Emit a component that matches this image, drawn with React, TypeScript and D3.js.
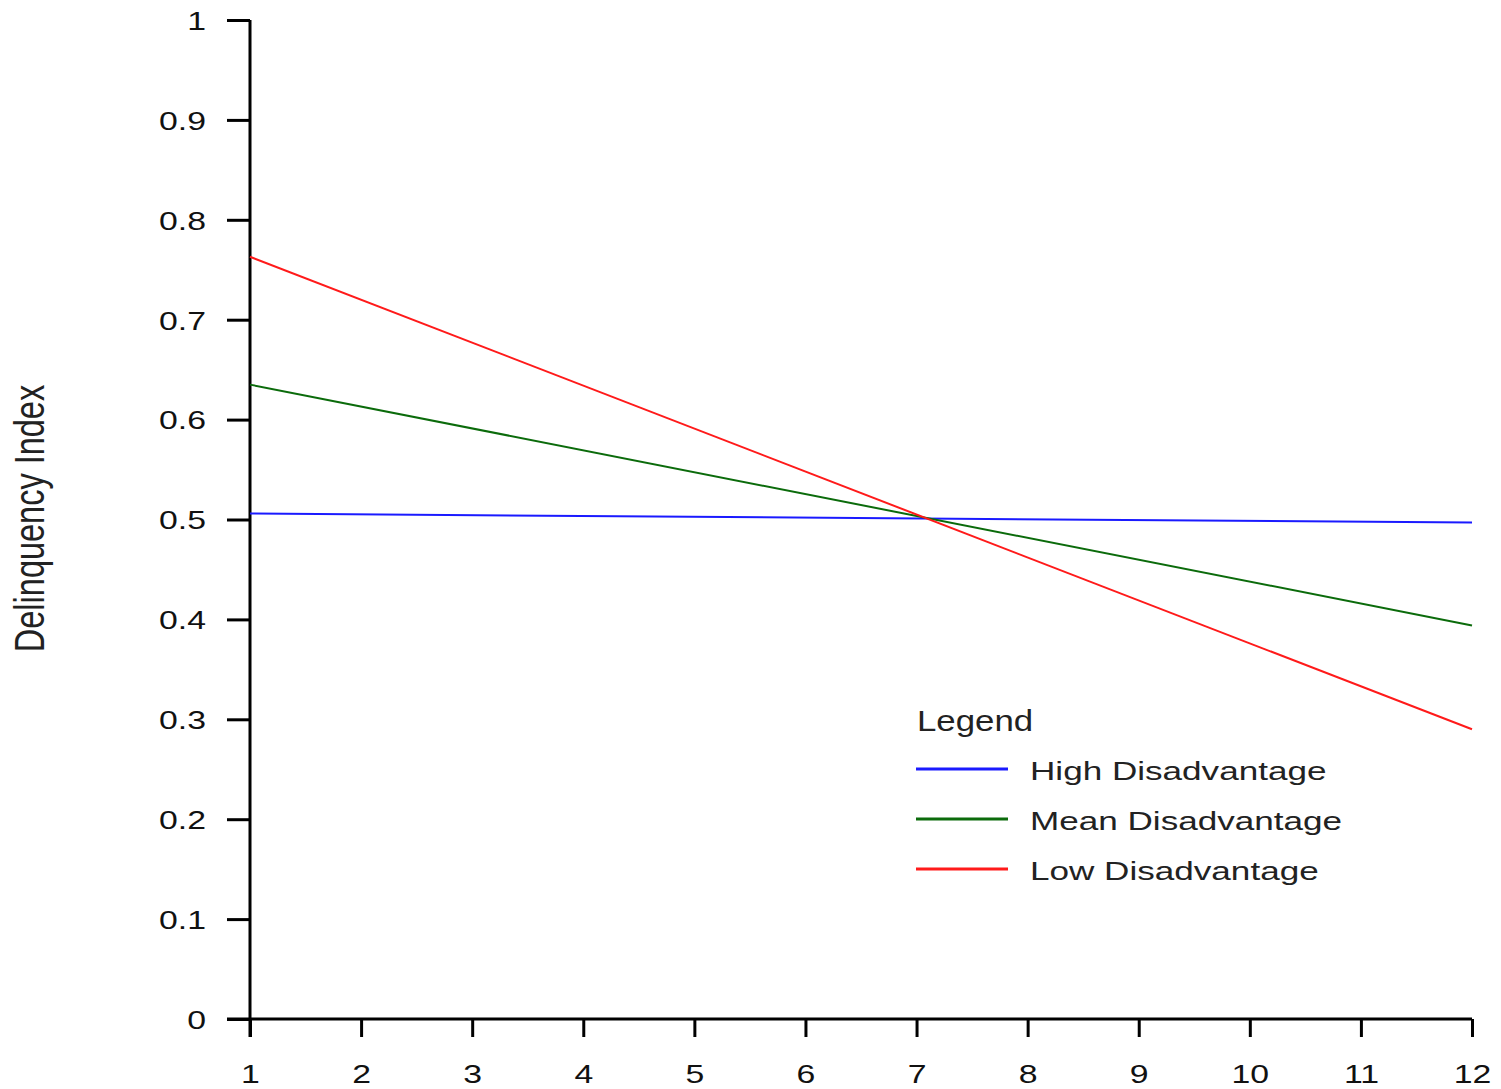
import { useEffect, useRef } from "react";
import * as d3 from "d3";

const xValues = [1, 12];
const highValues = [0.506, 0.497];
const meanValues = [0.635, 0.394];
const lowValues = [0.763, 0.29];
const seriesNames = ["High Disadvantage", "Mean Disadvantage", "Low Disadvantage"];
const seriesColors = ["#1a1aff", "#0b6b0b", "#ff1a1a"];
const xTicks = [1, 2, 3, 4, 5, 6, 7, 8, 9, 10, 11, 12];
const yTicks = [0, 0.1, 0.2, 0.3, 0.4, 0.5, 0.6, 0.7, 0.8, 0.9, 1];

const App = () => {
  const svgRef = useRef<SVGSVGElement | null>(null);

  useEffect(() => {
    const WIDTH = 1501;
    const HEIGHT = 1089;
    const MARGINS = { top: 20, right: 29, bottom: 70, left: 250 };
    const FONT = "'Liberation Sans', Arial, sans-serif";
    // the original text looks stretched sideways
    const STRETCH = 1.3;

    const svg = d3.select(svgRef.current).attr("width", WIDTH).attr("height", HEIGHT);
    svg.selectAll("*").remove();

    const x = d3.scaleLinear().domain([1, 12]).range([MARGINS.left, WIDTH - MARGINS.right]);
    const y = d3.scaleLinear().domain([0, 1]).range([HEIGHT - MARGINS.bottom, MARGINS.top]);

    // y axis
    const yAxis = svg
      .append("g")
      .attr("transform", `translate(${MARGINS.left},0)`)
      .call(d3.axisLeft(y).tickValues(yTicks).tickSize(23).tickSizeOuter(0).tickPadding(21).tickFormat((d) => d3.format("")(+d)));
    yAxis.select(".domain").attr("stroke", "#000").attr("stroke-width", 3)
      .attr("d", `M0,${y(1)}V${y(0) + 18}`);
    yAxis.selectAll(".tick line").attr("stroke", "#000").attr("stroke-width", 3);
    yAxis.selectAll(".tick text")
      .attr("font-family", FONT)
      .attr("font-size", 26)
      .attr("fill", "#111")
      .attr("dy", "0.36em")
      .attr("x", -44 / STRETCH)
      .attr("transform", `scale(${STRETCH},1)`);

    // x axis
    const xAxis = svg
      .append("g")
      .attr("transform", `translate(0,${y(0)})`)
      .call(d3.axisBottom(x).tickValues(xTicks).tickSize(18).tickSizeOuter(0).tickPadding(28).tickFormat(d3.format("d")));
    xAxis.select(".domain").attr("stroke", "#000").attr("stroke-width", 3)
      .attr("d", `M${MARGINS.left - 23},0H${x(12)}`);
    xAxis.selectAll(".tick line").attr("stroke", "#000").attr("stroke-width", 3);
    xAxis.selectAll(".tick text")
      .attr("font-family", FONT)
      .attr("font-size", 26)
      .attr("fill", "#111")
      .attr("transform", `scale(${STRETCH},1)`);

    // y title
    svg
      .append("text")
      .attr("transform", `translate(44,${(y(0) + y(1)) / 2 - 1}) rotate(-90) scale(1,1.3)`)
      .attr("text-anchor", "middle")
      .attr("font-family", FONT)
      .attr("font-size", 32.5)
      .attr("fill", "#222")
      .text("Delinquency Index");

    const line = d3
      .line<number>()
      .x((_, i) => x(xValues[i]))
      .y((d) => y(d));

    [highValues, meanValues, lowValues].forEach((vals, i) => {
      svg
        .append("path")
        .datum(vals)
        .attr("d", line)
        .attr("fill", "none")
        .attr("stroke", seriesColors[i])
        .attr("stroke-width", 2);
    });

    // legend
    const legend = svg.append("g").attr("transform", "translate(916,731)");
    legend
      .append("text")
      .attr("transform", "translate(1,0) scale(1.2,1)")
      .attr("font-family", FONT)
      .attr("font-size", 29)
      .attr("fill", "#222")
      .text("Legend");
    seriesNames.forEach((name, i) => {
      const yy = 38 + i * 50;
      legend
        .append("line")
        .attr("x1", 0)
        .attr("x2", 92)
        .attr("y1", yy)
        .attr("y2", yy)
        .attr("stroke", seriesColors[i])
        .attr("stroke-width", 3);
      legend
        .append("text")
        .attr("transform", `translate(114,${yy + 11}) scale(1.35,1)`)
        .attr("font-family", FONT)
        .attr("font-size", 26)
        .attr("fill", "#222")
        .text(name);
    });
  }, []);

  return <svg ref={svgRef} style={{ position: "absolute", left: 0, top: 0 }} />;
};

export default App;
